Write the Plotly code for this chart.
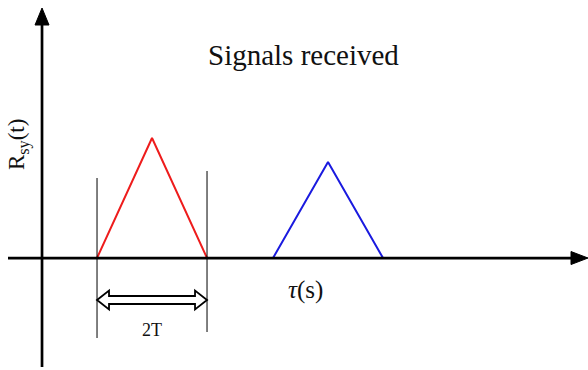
import plotly.graph_objects as go

# Received correlation pulses (tau, amplitude)
red_tau = [1.0, 2.0, 3.0]
red_amp = [0.0, 1.0, 0.0]
blue_tau = [4.2, 5.2, 6.2]
blue_amp = [0.0, 0.8, 0.0]
pulse_start, pulse_end = 1.0, 3.0   # width of one pulse = 2T

W, H = 588, 370
X_RANGE = [-0.764, 9.927]
Y_RANGE = [-0.933, 2.15]
kx = W / (X_RANGE[1] - X_RANGE[0])   # px per unit
ky = H / (Y_RANGE[1] - Y_RANGE[0])

def dx(px):
    return px / kx

def dy(px):
    return px / ky

def xpx(p):
    return X_RANGE[0] + p / kx

def ypx(p):
    return Y_RANGE[1] - p / ky

fig = go.Figure()
fig.add_trace(go.Scatter(x=red_tau, y=red_amp, mode="lines",
                         line=dict(color="#ee1c1c", width=2), hoverinfo="skip"))
fig.add_trace(go.Scatter(x=blue_tau, y=blue_amp, mode="lines",
                         line=dict(color="#1a1adf", width=2), hoverinfo="skip"))

shapes = []
# horizontal axis with arrowhead
x_tip = X_RANGE[1]
shapes.append(dict(type="line", x0=xpx(8), x1=x_tip - dx(14), y0=0, y1=0,
                   line=dict(color="black", width=2.7)))
shapes.append(dict(type="path",
                   path=f"M {x_tip - dx(17)},{dy(6.5)} L {x_tip},0 L {x_tip - dx(17)},{-dy(6.5)} Z",
                   fillcolor="black", line=dict(color="black", width=1)))
# vertical axis with arrowhead
y_tip = ypx(8)
shapes.append(dict(type="line", x0=0, x1=0, y0=ypx(367), y1=y_tip - dy(14),
                   line=dict(color="black", width=2.7)))
shapes.append(dict(type="path",
                   path=f"M {-dx(7)},{y_tip - dy(17)} L 0,{y_tip} L {dx(7)},{y_tip - dy(17)} Z",
                   fillcolor="black", line=dict(color="black", width=1)))
# thin markers at the pulse edges
shapes.append(dict(type="line", x0=pulse_start, x1=pulse_start, y0=ypx(178), y1=ypx(338),
                   line=dict(color="black", width=1)))
shapes.append(dict(type="line", x0=pulse_end, x1=pulse_end, y0=ypx(171), y1=ypx(332),
                   line=dict(color="black", width=1)))
# hollow double arrow spanning 2T
ya = ypx(300)
hl, hh, sh = dx(12), dy(9.5), dy(4)
a, b = pulse_start, pulse_end
arrow = (f"M {a},{ya} L {a + hl},{ya + hh} L {a + hl},{ya + sh} L {b - hl},{ya + sh} "
         f"L {b - hl},{ya + hh} L {b},{ya} L {b - hl},{ya - hh} L {b - hl},{ya - sh} "
         f"L {a + hl},{ya - sh} L {a + hl},{ya - hh} Z")
shapes.append(dict(type="path", path=arrow, fillcolor="white",
                   line=dict(color="black", width=1.8)))

serif = "Liberation Serif"
annotations = [
    dict(x=xpx(303), y=ypx(55), text="Signals received", showarrow=False,
         font=dict(family=serif, size=29, color="#111")),
    dict(x=xpx(18), y=ypx(145), text="R<sub>sy</sub>(t)", textangle=-90, showarrow=False,
         font=dict(family=serif, size=23, color="#111")),
    dict(x=xpx(305), y=ypx(290), text="<i>τ</i>(s)", showarrow=False,
         font=dict(family=serif, size=25, color="#111")),
    dict(x=(pulse_start + pulse_end) / 2, y=ypx(330), text="2T", showarrow=False,
         font=dict(family=serif, size=18, color="#111")),
]

fig.update_layout(
    width=W, height=H, margin=dict(l=0, r=0, t=0, b=0),
    paper_bgcolor="white", plot_bgcolor="white", showlegend=False,
    xaxis=dict(range=X_RANGE, visible=False, fixedrange=True),
    yaxis=dict(range=Y_RANGE, visible=False, fixedrange=True),
    shapes=shapes, annotations=annotations,
)
fig.write_html("out.html")
